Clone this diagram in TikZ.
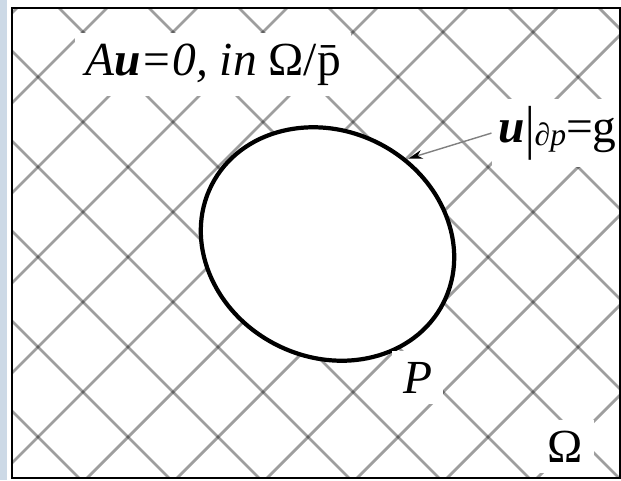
\documentclass[tikz,border=0pt]{standalone}
\usepackage{fontspec}
\setmainfont{Liberation Serif}
\usetikzlibrary{arrows.meta}
\definecolor{sidebar}{HTML}{CCD9E6}

\begin{document}
\begin{tikzpicture}[
    hatch/.style={draw=black, draw opacity=0.38, line width=1.6pt},
    lbl/.style={fill=white, inner sep=6pt, font=\fontsize{27}{30}\selectfont}]
  \useasboundingbox (0,0) rectangle (12.42,9.6);
  \fill[sidebar] (0,0) rectangle (0.14,9.6);
  \coordinate (SW) at (0.24,0.04);
  \coordinate (NE) at (12.40,9.44);
  \coordinate (O) at (6.55,4.72);
  % cross hatching of the domain
  \begin{scope}
    \clip (SW) rectangle (NE);
    \foreach \k in {-7,...,8}
      \draw[hatch] ({-1.9+1.8*\k},0) -- ++(10,10);
    \foreach \k in {-2,...,11}
      \draw[hatch] ({3.42+1.8*\k},0) -- ++(-10,10);
  \end{scope}
  % the hole P
  \draw[line width=2.4pt, fill=white, rotate around={-27:(O)}] (O) ellipse (2.6 and 2.26);
  \coordinate (T) at (8.17,6.43);
  \node[lbl, anchor=base] (eq) at (4.26,8.10) {\textit{A\textbf{u}=0, in} Ω/\={p}};
  \node[lbl, anchor=base east, inner sep=4pt] (bc) at (12.48,6.76)
    {\textbf{\textit{u}}\raisebox{-3pt}{\scalebox{1}[1.25]{|}}\raisebox{-2pt}{\fontsize{18}{20}\selectfont\itshape ∂p}=g};
  \node[lbl, anchor=base] (p) at (8.35,1.74) {\textit{P}};
  \node[lbl, anchor=base] (om) at (11.31,0.36) {Ω};
  \draw[gray, line width=0.8pt, -{Stealth[black, length=8pt, width=5pt]}] (bc.west) -- (T);
  \draw[line width=1.3pt] (SW) rectangle (NE);
\end{tikzpicture}
\end{document}
